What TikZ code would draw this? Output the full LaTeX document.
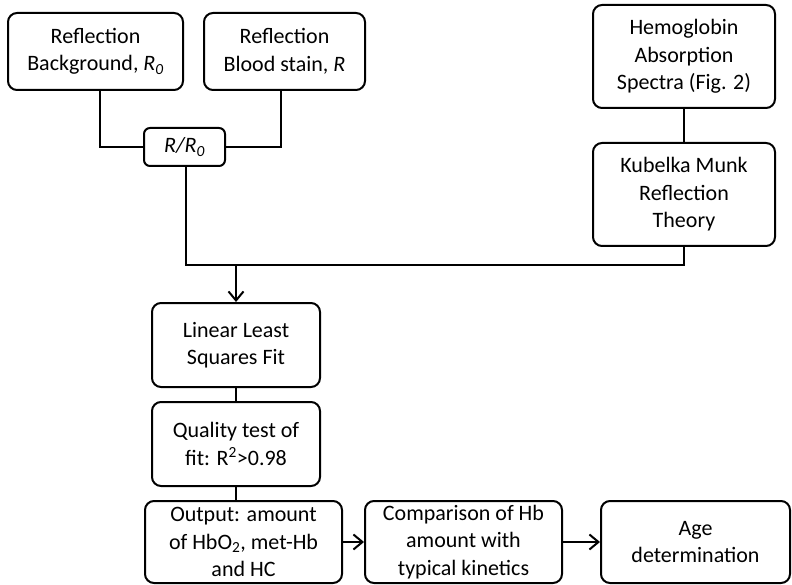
\documentclass[tikz,border=0pt]{standalone}
\usepackage{fontspec}
\setmainfont{Carlito}
\usetikzlibrary{positioning, arrows.meta, calc}

\begin{document}
\begin{tikzpicture}[
        x=1pt, y=-1pt,
        every node/.style={font=\fontsize{22}{27.5}\selectfont},
        box/.style={rectangle, draw, line width=2pt, rounded corners=9pt,
            align=center, inner sep=2pt},
        line/.style={line width=2pt},
        arrow/.style={line width=2pt, -{Straight Barb[length=9pt, width=15pt, line width=2pt]}},
    ]
    \useasboundingbox (0,0) rectangle (792,585);
    % top left: reflection measurements
    \node[box, minimum width=175pt, minimum height=77pt] (bgrefl) at (95.5,51.5) {Reflection\\Background, \textit{R\textsubscript{0}}};
    \node[box, minimum width=161pt, minimum height=77pt] (bloodrefl) at (284.5,51.5) {Reflection\\Blood stain, \textit{R}};
    \node[box, rounded corners=6pt, minimum width=81pt, minimum height=38pt] (ratio) at (184.5,147) {\textit{R/R\textsubscript{0}}};
    % top right: theory
    \node[box, minimum width=182pt, minimum height=103pt] (hbspec) at (684,56.5) {Hemoglobin\\Absorption\\Spectra (Fig. 2)};
    \node[box, minimum width=182pt, minimum height=103pt] (kmtheory) at (684,194.5) {Kubelka Munk\\Reflection\\Theory};
    % fitting chain
    \node[box, minimum width=168pt, minimum height=84pt] (llsfit) at (236,345) {Linear Least\\Squares Fit};
    \node[box, minimum width=168pt, minimum height=84pt] (quality) at (236,444) {Quality test of\\fit: R\textsuperscript{2}>0.98};
    \node[box, minimum width=197pt, minimum height=82pt] (output) at (243.5,542) {Output: amount\\of HbO\textsubscript{2}, met-Hb\\and HC};
    \node[box, minimum width=197pt, minimum height=82pt] (compare) at (463.5,542) {Comparison of Hb\\amount with\\typical kinetics};
    \node[box, minimum width=189pt, minimum height=82pt] (agedet) at (695.5,542) {Age\\determination};
    \coordinate (join) at (236,265);
    \draw[line] ($(bgrefl.south)+(4.5,0)$) |- (ratio.west);
    \draw[line] ($(bloodrefl.south)+(-3.5,0)$) |- (ratio.east);
    \draw[line] ($(ratio.south)+(1.5,0)$) |- (join) -| (kmtheory.south);
    \draw[line] (hbspec) -- (kmtheory);
    \draw[arrow] (join) -- (llsfit.north);
    \draw[line] (llsfit) -- (quality);
    \draw[line] (quality.south) -- (quality.south |- output.north);
    \draw[arrow] (output) -- (compare);
    \draw[arrow] (compare) -- (agedet);
\end{tikzpicture}
\end{document}
